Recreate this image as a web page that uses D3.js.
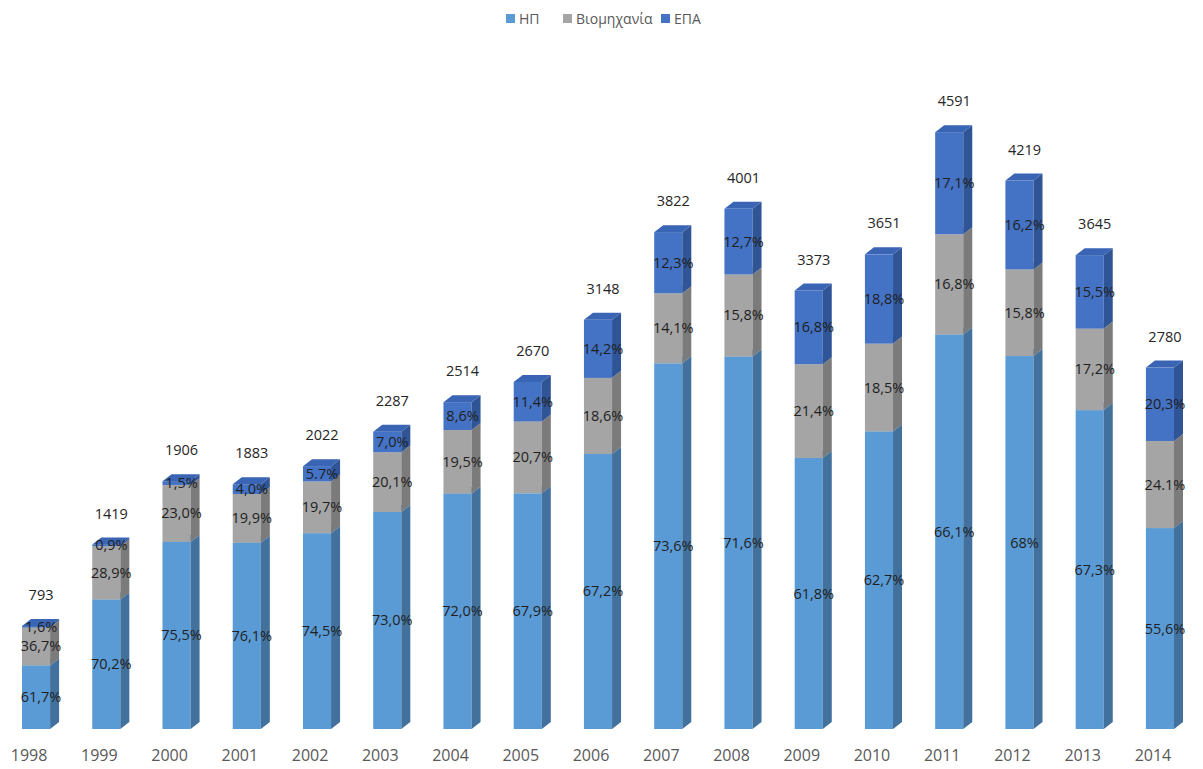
<!DOCTYPE html>
<html>
<head>
<meta charset="utf-8">
<script src="https://cdn.jsdelivr.net/npm/d3@7"></script>
<style>
  body { margin: 0; background: #fff; }
  svg { display: block; font-family: "Open Sans", "DejaVu Sans", sans-serif; }
</style>
</head>
<body>
<svg id="chart" width="1203" height="769"></svg>
<script>
const width = 1203;
const height = 769;

const years = ["1998", "1999", "2000", "2001", "2002", "2003", "2004", "2005", "2006",
  "2007", "2008", "2009", "2010", "2011", "2012", "2013", "2014"];
const totals = [793, 1419, 1906, 1883, 2022, 2287, 2514, 2670, 3148, 3822, 4001, 3373, 3651, 4591, 4219, 3645, 2780];
const hpPct = [61.7, 70.2, 75.5, 76.1, 74.5, 73.0, 72.0, 67.9, 67.2, 73.6, 71.6, 61.8, 62.7, 66.1, 68, 67.3, 55.6];
const indPct = [36.7, 28.9, 23.0, 19.9, 19.7, 20.1, 19.5, 20.7, 18.6, 14.1, 15.8, 21.4, 18.5, 16.8, 15.8, 17.2, 24.1];
const epaPct = [1.6, 0.9, 1.5, 4.0, 5.7, 7.0, 8.6, 11.4, 14.2, 12.3, 12.7, 16.8, 18.8, 17.1, 16.2, 15.5, 20.3];
const seriesNames = ["ΗΠ", "Βιομηχανία", "ΕΠΑ"];
// labels written differently in the original
const labelOverrides = { "2002-2": "5.7%", "2014-1": "24.1%", "2012-0": "68%" };

const colors = [
  { front: "#5b9bd5", side: "#41719c", top: "#6fa8dc" },
  { front: "#a5a5a5", side: "#7b7b7b", top: "#b8b8b8" },
  { front: "#4472c4", side: "#2f5597", top: "#3a64b4" }
];

const svg = d3.select("#chart");

const x = d3.scaleBand()
  .domain(years)
  .range([22, 1174])
  .paddingInner(0.6)
  .paddingOuter(0);

const y = d3.scaleLinear()
  .domain([0, 5000])
  .range([729, 79]);

const dx = 9, dy = 7;
const bw = x.bandwidth();

const fmt = v => v.toFixed(1).replace(".", ",") + "%";

// build stacked rows
const pcts = [hpPct, indPct, epaPct];
const rows = years.map((yr, i) => {
  let acc = 0;
  const segs = pcts.map((arr, k) => {
    const v = totals[i] * arr[i] / 100;
    const s = { k, y0: acc, y1: acc + v, pct: arr[i] };
    acc += v;
    return s;
  });
  // make the top of the stack equal to the total
  segs[2].y1 = totals[i];
  return { year: yr, total: totals[i], segs };
});

const bars = svg.append("g").selectAll("g")
  .data(rows)
  .enter().append("g");

bars.each(function(d) {
  const g = d3.select(this);
  const x0 = x(d.year);
  d.segs.forEach(s => {
    const yb = y(s.y0), yt = y(s.y1);
    const c = colors[s.k];
    g.append("rect")
      .attr("x", x0).attr("y", yt)
      .attr("width", bw).attr("height", Math.max(0, yb - yt))
      .attr("fill", c.front);
    g.append("path")
      .attr("d", `M${x0 + bw},${yb} L${x0 + bw + dx},${yb - dy} L${x0 + bw + dx},${yt - dy} L${x0 + bw},${yt} Z`)
      .attr("fill", c.side);
    g.append("path")
      .attr("d", `M${x0},${yt} L${x0 + dx},${yt - dy} L${x0 + bw + dx},${yt - dy} L${x0 + bw},${yt} Z`)
      .attr("fill", c.top);
  });
});

// percentage labels
bars.each(function(d) {
  const g = d3.select(this);
  const cx = x(d.year) + bw / 2 + 5;
  d.segs.forEach(s => {
    const key = d.year + "-" + s.k;
    g.append("text")
      .attr("x", cx)
      .attr("y", (y(s.y0) + y(s.y1)) / 2 + 5)
      .attr("text-anchor", "middle")
      .attr("font-size", 14.5)
      .attr("fill", "#1f1f1f")
      .text(labelOverrides[key] || fmt(s.pct));
  });
});

// totals above bars
bars.append("text")
  .attr("x", d => x(d.year) + bw / 2 + 5)
  .attr("y", d => y(d.total) - 26)
  .attr("text-anchor", "middle")
  .attr("font-size", 14.5)
  .attr("fill", "#262626")
  .text(d => d.total);

// x axis labels
const xAxis = d3.axisBottom(x).tickSize(0).tickPadding(0);
const axisG = svg.append("g")
  .attr("transform", "translate(-7, 750)")
  .call(xAxis);
axisG.select(".domain").remove();
axisG.selectAll("text")
  .attr("font-size", 16)
  .attr("fill", "#595959")
  .attr("font-family", "\"Open Sans\", sans-serif");

// legend
const legendX = [506, 563, 661];
const legend = svg.append("g").selectAll("g")
  .data(seriesNames)
  .enter().append("g")
  .attr("transform", (d, i) => `translate(${legendX[i]}, 14)`);
legend.append("rect")
  .attr("width", 9).attr("height", 9)
  .attr("fill", (d, i) => colors[i].front);
legend.append("text")
  .attr("x", 13).attr("y", 9.5)
  .attr("font-size", 14)
  .attr("fill", "#595959")
  .text(d => d);
</script>
</body>
</html>
